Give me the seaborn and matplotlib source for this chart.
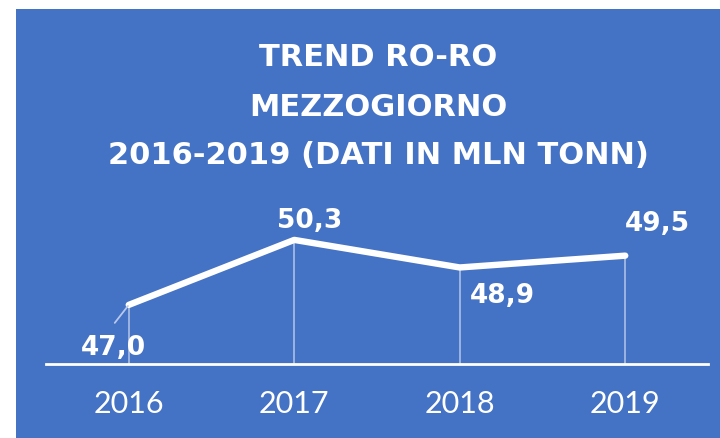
import matplotlib
matplotlib.use("Agg")
import matplotlib.pyplot as plt
import seaborn as sns
import pandas as pd
from matplotlib.patches import Rectangle

years = ["2016", "2017", "2018", "2019"]
values = [47.0, 50.3, 48.9, 49.5]
labels = ["47,0", "50,3", "48,9", "49,5"]
title_lines = ["TREND RO-RO", "MEZZOGIORNO", "2016-2019 (DATI IN MLN TONN)"]

blue = "#4472C4"
df = pd.DataFrame({"year": years, "value": values})

sns.set_style("white")
fig = plt.figure(figsize=(7.2, 4.38), dpi=100)
fig.patches.append(Rectangle((16 / 720, 0), 1, 1 - 9 / 438, transform=fig.transFigure,
                             facecolor=blue, edgecolor="none", zorder=-10))

ax = fig.add_axes([46 / 720, 74 / 438, 662 / 720, 174 / 438])
ax.set_facecolor("none")
x = list(range(len(years)))
ax.vlines(x, 44, values, color="white", alpha=0.55, lw=1.2, zorder=2)
sns.lineplot(data=df, x=x, y="value", ax=ax, color="white", lw=4.6,
             solid_capstyle="round", solid_joinstyle="round", zorder=3)

ax.set_xlim(-0.5, 3.5)
ax.set_ylim(44, 44 + 174 / 19.7)
ax.set_xticks(x)
ax.set_xticklabels(years, fontsize=22, color="white", family="Lato")
ax.tick_params(axis="x", length=0, pad=19)
ax.set_yticks([])
ax.set_xlabel("")
ax.set_ylabel("")
for s in ["top", "left", "right"]:
    ax.spines[s].set_visible(False)
ax.spines["bottom"].set_color("white")
ax.spines["bottom"].set_linewidth(2)

# label offsets in pixels (dx right, dy up)
offsets = [(-15, -43), (15, 19), (43, -29), (32, 32)]
for i, (v, lab) in enumerate(zip(values, labels)):
    dx, dy = offsets[i]
    ax.annotate(lab, (i, v), xytext=(dx * 0.72, dy * 0.72), textcoords="offset points",
                ha="center", va="center", fontsize=19, weight="bold", color="white")

# leader line for the first label
ax.annotate("", (0, values[0]), xytext=(-14 * 0.72, -18 * 0.72), textcoords="offset points",
            arrowprops=dict(arrowstyle="-", color="#b8c8ea", lw=1.3, shrinkA=0, shrinkB=1))

for ty, line in zip([57, 107, 156], title_lines):
    fig.text(378 / 720, 1 - ty / 438, line, ha="center", va="center", fontsize=22,
             weight="bold", color="white")

fig.savefig("out.png", dpi=100)
